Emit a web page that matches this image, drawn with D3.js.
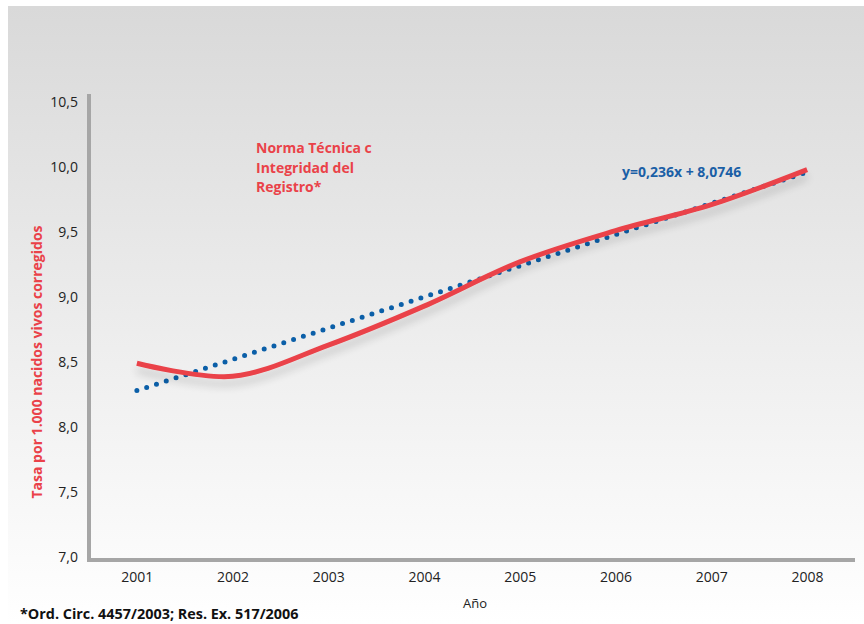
<!DOCTYPE html>
<html><head><meta charset="utf-8">
<script src="https://cdn.jsdelivr.net/npm/d3@7/dist/d3.min.js"></script>
<style>body{margin:0;background:#fff}svg{display:block}</style>
</head><body>
<svg id="c" width="864" height="624"></svg>
<script>
const years = ["2001","2002","2003","2004","2005","2006","2007","2008"];
const tasa = [8.49, 8.39, 8.63, 8.93, 9.27, 9.51, 9.71, 9.98];
const trendYears = ["2001","2008"];
const trendValues = [8.28, 9.96];
const yTicks = [7.0, 7.5, 8.0, 8.5, 9.0, 9.5, 10.0, 10.5];
const legendLines = ["Norma Técnica c", "Integridad del", "Registro*"];
const equation = "y=0,236x + 8,0746";
const yTitle = "Tasa por 1.000 nacidos vivos corregidos";
const xTitle = "Año";
const footnote = "*Ord. Circ. 4457/2003; Res. Ex. 517/2006";

const svg = d3.select("#c");
const font = "'Open Sans', 'Noto Sans', sans-serif";
const defs = svg.append("defs");
const g = defs.append("linearGradient").attr("id","bg").attr("x1",0).attr("y1",0).attr("x2",0).attr("y2",1);
g.append("stop").attr("offset","0%").attr("stop-color","#d9d9d9");
g.append("stop").attr("offset","100%").attr("stop-color","#ffffff");
const f = defs.append("filter").attr("id","sh").attr("x","-10%").attr("y","-50%").attr("width","120%").attr("height","200%");
f.append("feGaussianBlur").attr("in","SourceAlpha").attr("stdDeviation",4).attr("result","b");
f.append("feOffset").attr("in","b").attr("dx",0).attr("dy",7).attr("result","o");
f.append("feComponentTransfer").attr("in","o").attr("result","o2").append("feFuncA").attr("type","linear").attr("slope",0.18);
const m = f.append("feMerge"); m.append("feMergeNode").attr("in","o2"); m.append("feMergeNode").attr("in","SourceGraphic");

svg.append("rect").attr("x",8).attr("y",6).attr("width",856).attr("height",618).attr("fill","url(#bg)");

const x = d3.scalePoint().domain(years).range([89,855]).padding(0.5);
const y = d3.scaleLinear().domain([7,10.5]).range([557,102]);

// axes lines
svg.append("line").attr("x1",89).attr("x2",89).attr("y1",94).attr("y2",562).attr("stroke","#a6a6a6").attr("stroke-width",4);
svg.append("line").attr("x1",87).attr("x2",855).attr("y1",560).attr("y2",560).attr("stroke","#a6a6a6").attr("stroke-width",4);

const yAxis = d3.axisLeft(y).tickValues(yTicks).tickSize(0).tickPadding(0)
  .tickFormat(d => d3.format(".1f")(d).replace(".", ","));
const ya = svg.append("g").attr("transform","translate(78,0)").call(yAxis);
ya.select(".domain").remove();
ya.selectAll("text").attr("font-family",font).attr("font-size",14).attr("fill","#222");

const xAxis = d3.axisBottom(x).tickSize(0).tickPadding(0);
const xa = svg.append("g").attr("transform","translate(0,572)").call(xAxis);
xa.select(".domain").remove();
xa.selectAll("text").attr("font-family",font).attr("font-size",14).attr("fill","#222");

// trend line (dotted)
const tline = d3.line().x(d => x(d[0])).y(d => y(d[1]));
svg.append("path").datum(trendYears.map((d,i)=>[d,trendValues[i]]))
  .attr("d", tline).attr("fill","none").attr("stroke","#0b5fa8").attr("stroke-width",5)
  .attr("stroke-linecap","round").attr("stroke-dasharray","0 10.3");

// red series
const rline = d3.line().x(d => x(d[0])).y(d => y(d[1])).curve(d3.curveCatmullRom.alpha(0.5));
svg.append("path").datum(years.map((d,i)=>[d,tasa[i]]))
  .attr("d", rline).attr("fill","none").attr("stroke","#ea4249").attr("stroke-width",5)
  .attr("filter","url(#sh)");

// legend text
const lt = svg.append("text").attr("font-family",font).attr("font-size",14).attr("font-weight","bold").attr("fill","#ea4249");
legendLines.forEach((s,i)=> lt.append("tspan").attr("x",256).attr("y",153+i*19.5).text(s));

svg.append("text").attr("x",622).attr("y",177).attr("font-family",font).attr("font-size",14)
  .attr("font-weight","bold").attr("fill","#1b5fa6").text(equation);

svg.append("text").attr("transform","translate(42,362) rotate(-90)").attr("text-anchor","middle")
  .attr("font-family",font).attr("font-size",14).attr("font-weight","bold").attr("fill","#ea4249").text(yTitle);

svg.append("text").attr("x",475).attr("y",608).attr("text-anchor","middle").attr("font-family",font)
  .attr("font-size",13).attr("fill","#222").text(xTitle);

svg.append("text").attr("x",20).attr("y",619).attr("font-family",font).attr("font-size",14.4)
  .attr("font-weight","bold").attr("fill","#111").text(footnote);
</script>
</body></html>
